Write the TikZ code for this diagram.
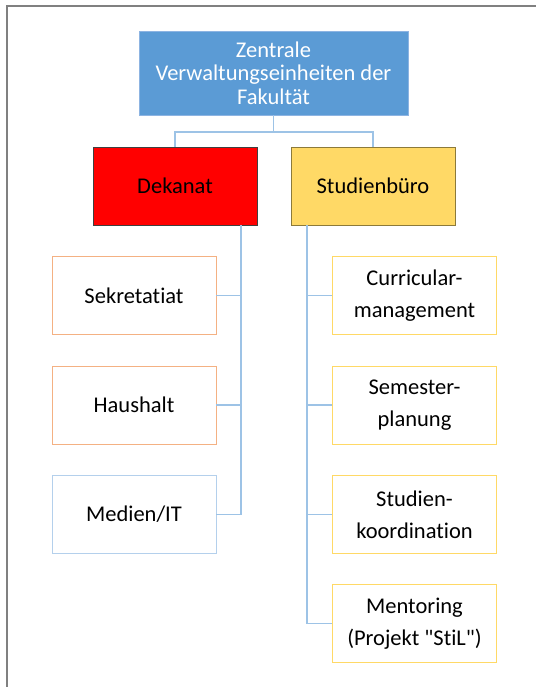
\documentclass[tikz,border=0pt]{standalone}
\usepackage{fontspec}
\setmainfont{Carlito}[Ligatures={TeXOff,NoCommon}]
\definecolor{topblue}{HTML}{5B9BD5}
\definecolor{topborder}{HTML}{8DB4E2}
\definecolor{linkblue}{HTML}{9DC3E6}
\definecolor{dekborder}{HTML}{404040}
\definecolor{stufill}{HTML}{FFD966}
\definecolor{stuborder}{HTML}{8C7A3A}
\definecolor{orangeb}{HTML}{F4B183}
\definecolor{medb}{HTML}{B4D0EC}
\definecolor{yellowb}{HTML}{FFD966}
\definecolor{framegray}{HTML}{808080}
\tikzset{
  box/.style={rectangle, minimum width=164pt, minimum height=78pt, align=center, inner sep=2pt, line width=0.9pt},
  topbox/.style={box, minimum width=269pt, minimum height=84pt, fill=topblue, draw=topborder, text=white, font=\fontsize{22.5}{23.5}\selectfont},
  headbox/.style={box, minimum height=78pt, font=\fontsize{22.5}{27}\selectfont},
  childbox/.style={box, fill=white, font=\fontsize{22.5}{32}\selectfont},
  conn/.style={draw=linkblue, line width=1.2pt}
}
\begin{document}
\begin{tikzpicture}[x=1pt,y=-1pt]
\useasboundingbox (0,0) rectangle (536,687);
\fill[white] (0,0) rectangle (536,687);
\draw[framegray, line width=2pt] (7,687) -- (7,6) -- (536,6);

\node[topbox] (top) at (273.5,73) {Zentrale\\Verwaltungseinheiten der\\Fakultät};
\node[headbox, fill=red, draw=dekborder] (dek) at (175,186) {Dekanat};
\node[headbox, fill=stufill, draw=stuborder] (stu) at (373,186) {Studienbüro};

\node[childbox, draw=orangeb] (sek) at (134,295.5) {Sekretatiat};
\node[childbox, draw=orangeb] (hau) at (134,405) {Haushalt};
\node[childbox, draw=medb] (med) at (134,514.5) {Medien/IT};

\node[childbox, draw=yellowb] (cur) at (414.5,295.5) {Curricular-\\management};
\node[childbox, draw=yellowb] (sem) at (414.5,405) {Semester-\\planung};
\node[childbox, draw=yellowb] (stk) at (414.5,514.5) {Studien-\\koordination};
\node[childbox, draw=yellowb] (men) at (414.5,623.5) {Mentoring\\(Projekt "StiL")};

\coordinate (j) at (273.5,132);
\draw[conn] (top.south) -- (j) -| (dek.north);
\draw[conn] (j) -| (stu.north);

\coordinate (dtrunk) at (241,225);
\draw[conn] (sek.east) -| (dtrunk);
\draw[conn] (hau.east) -| (dtrunk);
\draw[conn] (med.east) -| (dtrunk);

\coordinate (strunk) at (307,225);
\draw[conn] (cur.west) -| (strunk);
\draw[conn] (sem.west) -| (strunk);
\draw[conn] (stk.west) -| (strunk);
\draw[conn] (men.west) -| (strunk);
\end{tikzpicture}
\end{document}
